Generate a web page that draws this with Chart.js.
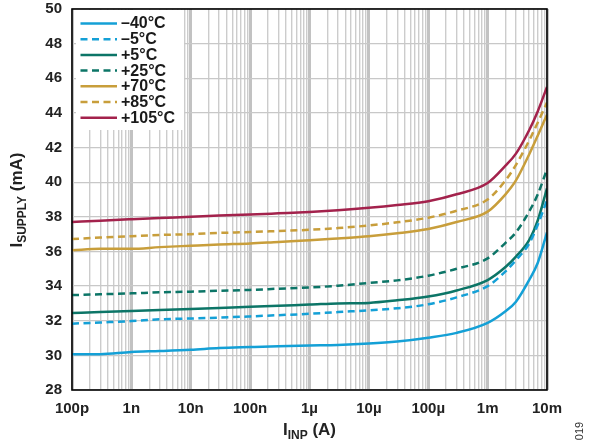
<!DOCTYPE html>
<html>
<head>
<meta charset="utf-8">
<script src="https://cdn.jsdelivr.net/npm/chart.js@4.4.1/dist/chart.umd.min.js"></script>
<style>
  html, body { margin: 0; padding: 0; background: #fff; }
  #wrap { width: 589px; height: 444px; position: relative; }
</style>
</head>
<body>
<div id="wrap"><canvas id="chart"></canvas></div>
<script>
// input current (A) at which each curve is sampled
const inputCurrent = [1e-10, 3e-10, 1e-9, 3e-9, 1e-8, 3e-8, 1e-7, 3e-7, 1e-6, 3e-6,
                      1e-5, 3e-5, 1e-4, 3e-4, 1e-3, 2e-3, 3e-3, 5e-3, 7e-3, 1e-2];

// supply current (mA) for each temperature
const supplyM40 = [30.06, 30.07, 30.2, 30.25, 30.32, 30.42, 30.48, 30.53, 30.57, 30.6,
                   30.68, 30.8, 31.02, 31.3, 31.88, 32.55, 33.1, 34.35, 35.35, 37.1];
const supplyM5 = [31.83, 31.9, 31.98, 32.08, 32.13, 32.18, 32.25, 32.32, 32.4, 32.5,
                  32.6, 32.72, 32.95, 33.35, 34.0, 34.85, 35.5, 36.45, 37.55, 38.96];
const supplyP5 = [32.45, 32.5, 32.56, 32.62, 32.68, 32.74, 32.8, 32.87, 32.93, 33.0,
                  33.03, 33.18, 33.4, 33.75, 34.35, 35.1, 35.7, 36.65, 37.8, 39.64];
const supplyP25 = [33.48, 33.53, 33.58, 33.64, 33.68, 33.73, 33.78, 33.85, 33.92, 34.02,
                   34.18, 34.33, 34.6, 35.0, 35.6, 36.5, 37.1, 38.3, 39.3, 40.75];
const supplyP70 = [36.07, 36.15, 36.15, 36.25, 36.33, 36.4, 36.46, 36.55, 36.64, 36.75,
                   36.88, 37.05, 37.3, 37.7, 38.3, 39.3, 40.1, 41.6, 42.7, 43.9];
const supplyP85 = [36.72, 36.8, 36.88, 36.95, 37.0, 37.07, 37.12, 37.18, 37.25, 37.35,
                   37.5, 37.68, 37.95, 38.35, 39.0, 40.1, 41.0, 42.4, 43.45, 44.6];
const supplyP105 = [37.7, 37.78, 37.86, 37.93, 38.0, 38.07, 38.13, 38.2, 38.28, 38.38,
                    38.52, 38.68, 38.9, 39.3, 39.95, 40.95, 41.65, 43.0, 44.1, 45.5];

const tempLabels = ['–40°C', '–5°C', '+5°C', '+25°C', '+70°C', '+85°C', '+105°C'];

// x axis labels, one per decade from 100p to 10m
const decadeLabels = ['100p', '1n', '10n', '100n', '1µ', '10µ', '100µ', '1m', '10m'];
const xMin = 1e-10;
const xMax = 1e-2;

// y axis range (mA)
const yMin = 28;
const yMax = 50;
const yStep = 2;

const BLUE = '#14a0d6';
const TEAL = '#0c7567';
const GOLD = '#c89e3b';
const CRIMSON = '#a3224c';
const FONT = '"Liberation Sans", Arial, Helvetica, sans-serif';

const series = [supplyM40, supplyM5, supplyP5, supplyP25, supplyP70, supplyP85, supplyP105];
const colors = [BLUE, BLUE, TEAL, TEAL, GOLD, GOLD, CRIMSON];
const dashed = [false, true, false, true, false, true, false];

const datasets = series.map((vals, i) => ({
  label: tempLabels[i],
  data: vals.map((v, j) => ({ x: inputCurrent[j], y: v })),
  borderColor: colors[i],
  backgroundColor: colors[i],
  borderWidth: 2.5,
  borderDash: dashed[i] ? [7, 4.5] : [],
  pointRadius: 0,
  fill: false,
  cubicInterpolationMode: 'monotone',
  tension: 0.4
}));

function isDecade(v) {
  const e = Math.log10(v);
  return Math.abs(e - Math.round(e)) < 1e-6;
}

// gridlines at 1..9 of every decade
function logTicks() {
  const out = [];
  for (let e = -10; e < -2; e++) {
    for (let m = 1; m <= 9; m++) out.push({ value: m * Math.pow(10, e) });
  }
  out.push({ value: xMax });
  return out;
}

// text with a subscript part, centred on (cx, cy)
function drawSubText(ctx, parts, cx, cy, rotate) {
  ctx.save();
  ctx.translate(cx, cy);
  if (rotate) ctx.rotate(-Math.PI / 2);
  let total = 0;
  parts.forEach(p => { ctx.font = p.font; total += ctx.measureText(p.text).width; });
  let x = -total / 2;
  ctx.textAlign = 'left';
  ctx.textBaseline = 'alphabetic';
  ctx.fillStyle = '#222';
  parts.forEach(p => {
    ctx.font = p.font;
    ctx.fillText(p.text, x, p.dy || 0);
    x += ctx.measureText(p.text).width;
  });
  ctx.restore();
}

const decorations = {
  id: 'decorations',
  beforeDatasetsDraw(chart) {
    const ctx = chart.ctx;
    const area = chart.chartArea;
    // legend box sits over the grid
    ctx.save();
    ctx.fillStyle = '#fff';
    ctx.fillRect(area.left + 4, area.top + 1, 108, 120);
    ctx.font = 'bold 16px ' + FONT;
    ctx.textBaseline = 'middle';
    chart.data.datasets.forEach((ds, i) => {
      const y = area.top + 14.5 + i * 15.7;
      ctx.beginPath();
      ctx.strokeStyle = ds.borderColor;
      ctx.lineWidth = 2.5;
      ctx.setLineDash(ds.borderDash);
      ctx.moveTo(area.left + 8.5, y);
      ctx.lineTo(area.left + 45, y);
      ctx.stroke();
      ctx.setLineDash([]);
      ctx.fillStyle = '#1a1a1a';
      ctx.fillText(ds.label, area.left + 49, y + 0.5);
    });
    ctx.restore();
  },
  afterDraw(chart) {
    const ctx = chart.ctx;
    const area = chart.chartArea;
    ctx.save();
    ctx.strokeStyle = '#000';
    ctx.lineWidth = 1.6;
    ctx.strokeRect(area.left, area.top, area.right - area.left, area.bottom - area.top);
    ctx.restore();

    const big = 'bold 17px ' + FONT;
    const small = 'bold 12px ' + FONT;
    drawSubText(ctx, [
      { text: 'I', font: big },
      { text: 'INP', font: small, dy: 4 },
      { text: ' (A)', font: big }
    ], (area.left + area.right) / 2, 435, false);
    drawSubText(ctx, [
      { text: 'I', font: big },
      { text: 'SUPPLY', font: small, dy: 4 },
      { text: ' (mA)', font: big }
    ], 22, 200, true);

    ctx.save();
    ctx.translate(583, 431);
    ctx.rotate(-Math.PI / 2);
    ctx.font = '11px ' + FONT;
    ctx.fillStyle = '#333';
    ctx.textAlign = 'center';
    ctx.textBaseline = 'alphabetic';
    ctx.fillText('019', 0, 0);
    ctx.restore();
  }
};

const ctx = document.getElementById('chart').getContext('2d');

new Chart(ctx, {
  type: 'line',
  data: { datasets: datasets },
  options: {
    responsive: true,
    maintainAspectRatio: false,
    animation: false,
    layout: { padding: { top: 0, right: 42, left: 0, bottom: 0 } },
    plugins: {
      legend: { display: false },
      tooltip: { enabled: false }
    },
    scales: {
      x: {
        type: 'logarithmic',
        min: xMin,
        max: xMax,
        afterBuildTicks: scale => { scale.ticks = logTicks(); },
        afterFit: scale => { scale.height = 54; },
        grid: {
          drawTicks: false,
          color: ctx => isDecade(ctx.tick.value) ? '#c2c2c2' : '#cccccc',
          lineWidth: ctx => isDecade(ctx.tick.value) ? 3 : 1.4
        },
        border: { display: false },
        ticks: {
          autoSkip: false,
          maxRotation: 0,
          padding: 10,
          color: '#222',
          font: { family: FONT, size: 15, weight: 'bold' },
          callback: v => isDecade(v) ? decadeLabels[Math.round(Math.log10(v)) + 10] : ''
        }
      },
      y: {
        type: 'linear',
        min: yMin,
        max: yMax,
        afterFit: scale => {
          scale.width = 72;
          scale.paddingTop = 9;
          scale.paddingBottom = 0;
        },
        grid: { drawTicks: false, color: '#c8c8c8', lineWidth: 1.3 },
        border: { display: false },
        ticks: {
          stepSize: yStep,
          padding: 10,
          color: '#222',
          font: { family: FONT, size: 15, weight: 'bold' }
        }
      }
    }
  },
  plugins: [decorations]
});
</script>
</body>
</html>
